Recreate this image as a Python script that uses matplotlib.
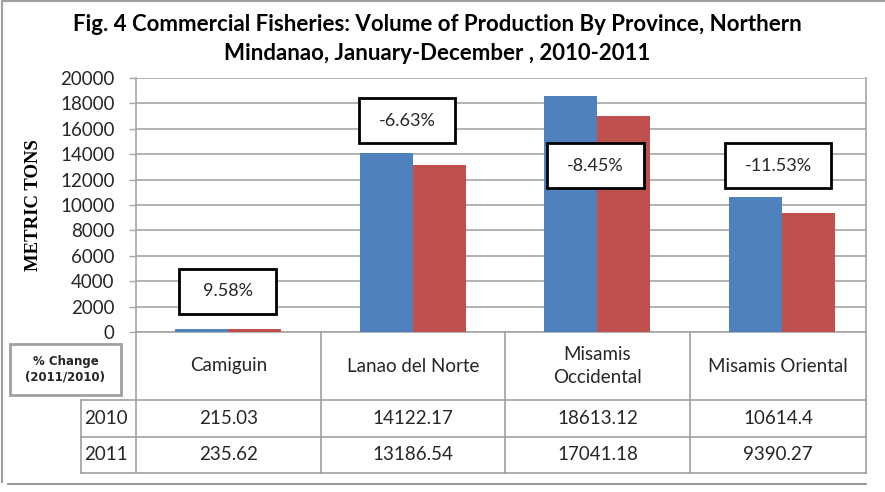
import matplotlib.pyplot as plt
from matplotlib.patches import Rectangle

provinces = ["Camiguin", "Lanao del Norte", "Misamis\nOccidental", "Misamis Oriental"]
years = ["2010", "2011"]
vol_2010 = [215.03, 14122.17, 18613.12, 10614.4]
vol_2011 = [235.62, 13186.54, 17041.18, 9390.27]
pct_labels = ["9.58%", "-6.63%", "-8.45%", "-11.53%"]
pct_label_y = [3228, 16650, 13110, 13110]   # where the callout boxes sit
pct_label_dx = [0.0, -0.03, -0.01, -0.02]

blue = "#4F81BD"
red = "#C0504D"
grid = "#A6A6A6"
txt = "#262626"
font = "Lato"

W, H = 885, 492
fig = plt.figure(figsize=(W / 100, H / 100), dpi=100)

# pixel layout of the plot area
x0, x1, ytop, ybot = 135.5, 866, 78, 332
ax = fig.add_axes([x0 / W, (H - ybot) / H, (x1 - x0) / W, (ybot - ytop) / H])

bw = 0.287
xs = range(len(provinces))
ax.bar([i - bw / 2 for i in xs], vol_2010, width=bw, color=blue, zorder=3)
ax.bar([i + bw / 2 for i in xs], vol_2011, width=bw, color=red, zorder=3)

ax.set_xlim(-0.5, 3.455)
ax.set_ylim(0, 20000)
ax.set_yticks(range(0, 20001, 2000))
ax.set_xticks([])
ax.grid(axis="y", color=grid, linewidth=1.2, zorder=0)
ax.tick_params(axis="y", length=5, width=1, color=grid, pad=10, labelsize=13.5,
               labelcolor=txt)
for lab in ax.get_yticklabels():
    lab.set_fontfamily(font)
ax.spines["top"].set_visible(False)
for s in ["left", "bottom", "right"]:
    ax.spines[s].set_color(grid)
    ax.spines[s].set_linewidth(1.2)

ax.set_ylabel("METRIC TONS", fontfamily="Liberation Serif", fontweight="bold",
              fontsize=13.5, color="black", labelpad=13)

# callout boxes with percent change
for i, (lab, yv, dx) in enumerate(zip(pct_labels, pct_label_y, pct_label_dx)):
    bwid = 0.525 if len(lab) < 7 else 0.574
    bh = 3543
    cx = i + dx
    ax.add_patch(Rectangle((cx - bwid / 2, yv - bh / 2), bwid, bh, facecolor="white",
                           edgecolor="black", linewidth=2, zorder=5))
    ax.text(cx, yv, lab, ha="center", va="center", fontsize=13, fontfamily=font,
            color=txt, zorder=6)

# overlay in pixel coordinates for the table and frame
ov = fig.add_axes([0, 0, 1, 1], facecolor="none")
ov.set_xlim(0, W)
ov.set_ylim(H, 0)
ov.axis("off")

cols = [136, 321, 505, 690, 866]
rows = [332, 400, 437, 473]
lc = "#A0A0A0"
for c in cols:
    ov.plot([c, c], [rows[0], rows[-1]], color=lc, lw=1.2)
ov.plot([81, 81], [rows[1], rows[-1]], color=lc, lw=1.2)
for r in rows[1:]:
    ov.plot([81, cols[-1]], [r, r], color=lc, lw=1.2)

for j, name in enumerate(provinces):
    cx = (cols[j] + cols[j + 1]) / 2
    ov.text(cx, (rows[0] + rows[1]) / 2, name, ha="center", va="center",
            fontsize=13.5, fontfamily=font, color=txt, linespacing=1.4)
    for k, vals in enumerate([vol_2010, vol_2011]):
        ov.text(cx, (rows[k + 1] + rows[k + 2]) / 2, str(vals[j]), ha="center",
                va="center", fontsize=13.5, fontfamily=font, color=txt)
for k, yr in enumerate(years):
    ov.text(84, (rows[k + 1] + rows[k + 2]) / 2, yr, ha="left", va="center",
            fontsize=13.5, fontfamily=font, color=txt)

ov.add_patch(Rectangle((10, 344), 111, 51, facecolor="white", edgecolor="#A0A0A0",
                       linewidth=2))
ov.text(65.5, 369.5, "% Change\n(2011/2010)", ha="center", va="center",
        fontsize=8.5, fontweight="bold", fontfamily="DejaVu Sans", color=txt,
        linespacing=1.3)

# chart frame
ov.plot([2, W], [1, 1], color="#A0A0A0", lw=1.5)
ov.plot([2, 2], [1, 482], color="#A0A0A0", lw=1.5)
ov.plot([8, 866], [484, 484], color="#808080", lw=1.2)

fig.text(437 / W, 1 - 39 / H,
         "Fig. 4 Commercial Fisheries: Volume of Production By Province, Northern\n"
         "Mindanao, January-December , 2010-2011",
         ha="center", va="center", fontsize=16, fontweight="bold", fontfamily=font,
         color="black", linespacing=1.45)

fig.savefig("out.png", dpi=100)
